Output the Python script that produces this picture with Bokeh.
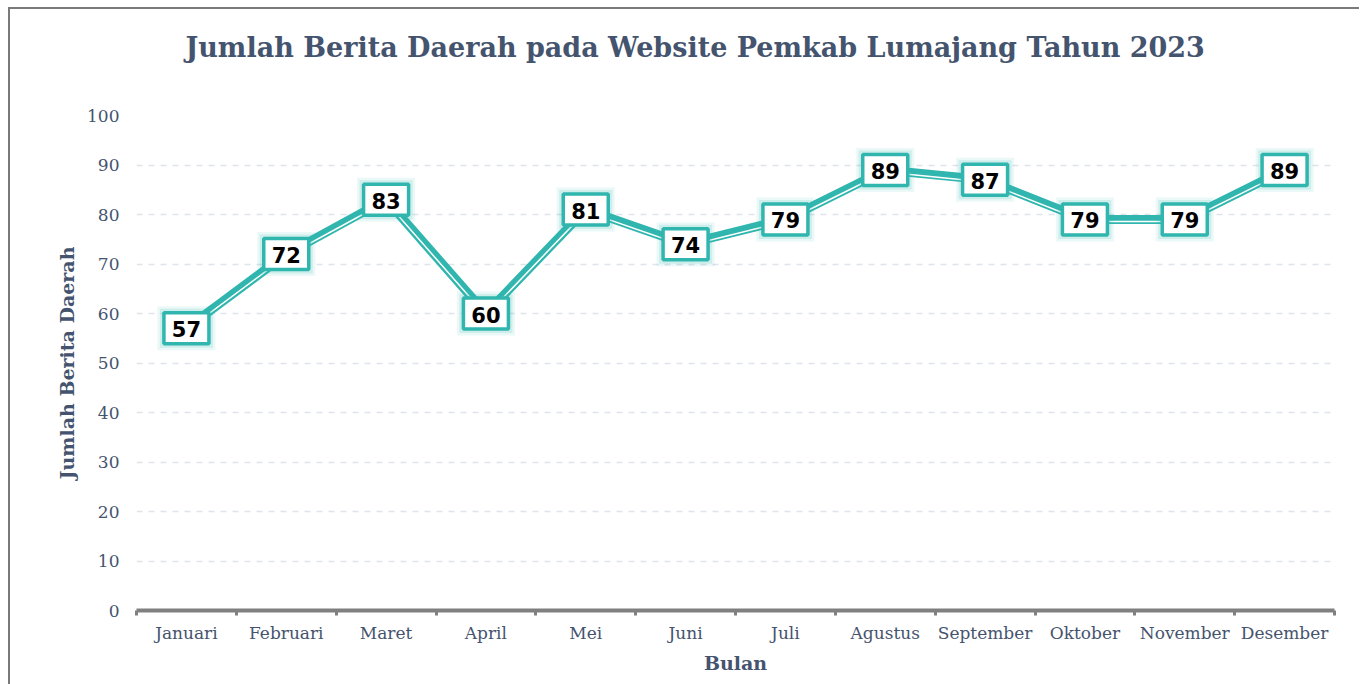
from bokeh.plotting import figure
from bokeh.layouts import column
from bokeh.models import ColumnDataSource, FixedTicker
from bokeh.core.properties import value
from bokeh.embed import file_html
from bokeh.resources import INLINE

months = ["Januari", "Februari", "Maret", "April", "Mei", "Juni", "Juli",
          "Agustus", "September", "Oktober", "November", "Desember"]
counts = [57, 72, 83, 60, 81, 74, 79, 89, 87, 79, 79, 89]
y_ticks = [0, 10, 20, 30, 40, 50, 60, 70, 80, 90, 100]
title_text = "Jumlah Berita Daerah pada Website Pemkab Lumajang Tahun 2023"

TEAL = "#30b6ae"
TXT = "#45546e"
SERIF = "DejaVu Serif"
BORDER = "2px solid #7a7a7a"

xs = list(range(len(months)))
src = ColumnDataSource(dict(x=xs, y=counts, lab=[str(c) for c in counts],
                            yw=[c - 0.42 for c in counts]))

# title strip
t = figure(width=1351, height=91, output_backend="svg", toolbar_location=None,
           x_range=(0, 1351), y_range=(0, 91), x_axis_type=None, y_axis_type=None,
           min_border=0)
t.styles = {"margin-left": "8px", "margin-top": "7px", "border-left": BORDER, "border-top": BORDER}
t.outline_line_color = None
t.grid.visible = False
t.text(x=[630], y=[53], text=[title_text], text_align="center", text_baseline="middle",
       text_font=value(SERIF), text_font_size="27px", text_font_style="bold", text_color=TXT)

p = figure(width=1351, height=586, output_backend="svg", toolbar_location=None,
           x_range=(-0.5, len(months) - 0.5), y_range=(0, 100),
           min_border_left=126, min_border_right=27, min_border_top=17, min_border_bottom=74)
p.styles = {"margin-left": "8px", "border-left": BORDER}
p.outline_line_color = None

# axes
p.xaxis.ticker = FixedTicker(ticks=xs, minor_ticks=[i - 0.5 for i in range(len(months) + 1)])
p.xaxis.major_label_overrides = {i: m for i, m in enumerate(months)}
p.xaxis.major_tick_line_color = None
p.xaxis.minor_tick_line_color = "#808080"
p.xaxis.minor_tick_line_width = 3
p.xaxis.minor_tick_out = 5
p.xaxis.minor_tick_in = 0
p.xaxis.axis_line_color = "#808080"
p.xaxis.axis_line_width = 4
p.xaxis.major_label_text_font = SERIF
p.xaxis.major_label_text_font_size = "17px"
p.xaxis.major_label_text_color = TXT
p.xaxis.major_label_standoff = 6
p.xaxis.axis_label = "Bulan"
p.xaxis.axis_label_text_font = SERIF
p.xaxis.axis_label_text_font_style = "bold"
p.xaxis.axis_label_text_font_size = "19px"
p.xaxis.axis_label_text_color = TXT
p.xaxis.axis_label_standoff = 6

p.yaxis.ticker = FixedTicker(ticks=y_ticks)
p.yaxis.major_tick_line_color = None
p.yaxis.minor_tick_line_color = None
p.yaxis.axis_line_color = None
p.yaxis.major_label_text_font = SERIF
p.yaxis.major_label_text_font_size = "17px"
p.yaxis.major_label_text_color = TXT
p.yaxis.major_label_standoff = 11
p.yaxis.axis_label = "Jumlah Berita Daerah"
p.yaxis.axis_label_text_font = SERIF
p.yaxis.axis_label_text_font_style = "bold"
p.yaxis.axis_label_text_font_size = "19px"
p.yaxis.axis_label_text_color = TXT
p.yaxis.axis_label_standoff = 6

p.xgrid.grid_line_color = None
p.ygrid.grid_line_color = "#dfe3ea"
p.ygrid.grid_line_dash = "6 6"
p.ygrid.grid_line_width = 1.5

# line
p.line("x", "y", source=src, line_color=TEAL, line_width=9, line_join="round")
p.line("x", "yw", source=src, line_color="white", line_width=1.5, line_join="round")

# label boxes with glow
p.rect("x", "y", source=src, width=58, height=44, width_units="screen", height_units="screen",
       fill_color=TEAL, fill_alpha=0.10, line_color=None)
p.rect("x", "y", source=src, width=53, height=39, width_units="screen", height_units="screen",
       fill_color=TEAL, fill_alpha=0.15, line_color=None)
p.rect("x", "y", source=src, width=45, height=31, width_units="screen", height_units="screen",
       fill_color="white", line_color=TEAL, line_width=3.5)
p.text("x", "y", text="lab", source=src, text_align="center", text_baseline="middle",
       text_font=value("DejaVu Sans"), text_font_style="bold", text_font_size="21px",
       text_color="black", y_offset=1)

layout = column(t, p, spacing=0)
open("out.html", "w").write(file_html(layout, INLINE))
